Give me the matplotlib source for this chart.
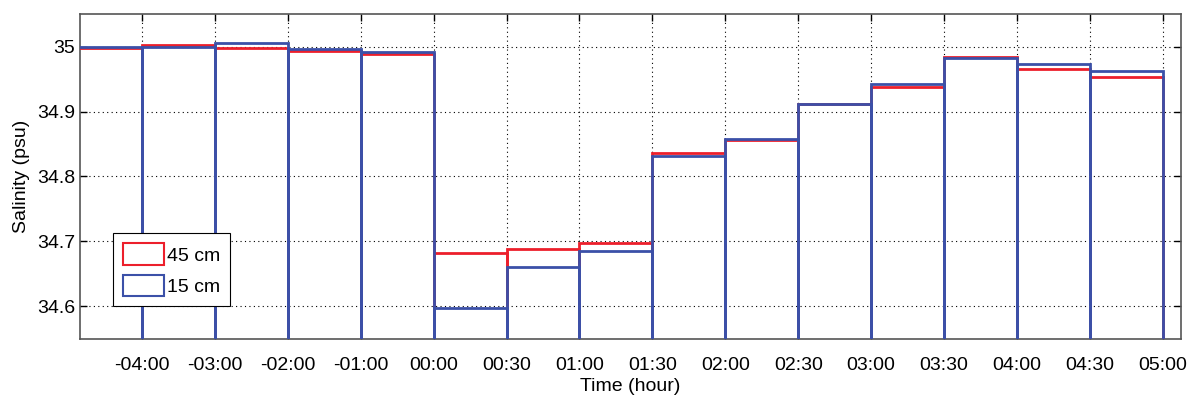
import matplotlib
matplotlib.use("Agg")
import matplotlib.pyplot as plt
from matplotlib.patches import Patch

# time steps (categorical axis) and mean salinity for each sensor depth
time_labels = ['-04:00', '-03:00', '-02:00', '-01:00', '00:00', '00:30', '01:00',
               '01:30', '02:00', '02:30', '03:00', '03:30', '04:00', '04:30', '05:00']
salinity_45 = [34.998, 35.003, 34.998, 34.993, 34.988, 34.683, 34.689, 34.698,
               34.836, 34.856, 34.911, 34.937, 34.984, 34.966, 34.953]
salinity_15 = [35.000, 35.000, 35.006, 34.996, 34.992, 34.598, 34.660, 34.686,
               34.831, 34.858, 34.912, 34.942, 34.982, 34.973, 34.963]

red = '#ec1f2b'
blue = '#3b50a8'
base = 34.4

plt.rcParams['font.family'] = ['Liberation Sans', 'DejaVu Sans']

fig = plt.figure(figsize=(11.95, 3.99), dpi=100)
ax = fig.add_axes([0.0669, 0.1504, 0.9214, 0.8145])

pos = list(range(1, len(time_labels) + 1))
# each bar spans from the previous tick to its own tick
left = [p - 1 for p in pos]
ax.bar(left, [v - base for v in salinity_45], width=1, bottom=base, align='edge',
       fill=False, edgecolor=red, linewidth=2, zorder=3)
ax.bar(left, [v - base for v in salinity_15], width=1, bottom=base, align='edge',
       fill=False, edgecolor=blue, linewidth=2, zorder=4)

ax.set_xlim(0.15, 15.25)
ax.set_ylim(34.55, 35.05)
ax.set_xticks(pos)
ax.set_xticklabels(time_labels)
ax.set_yticks([34.6, 34.7, 34.8, 34.9, 35.0])
ax.set_yticklabels(['34.6', '34.7', '34.8', '34.9', '35'])
ax.tick_params(direction='in', top=True, right=True, length=5, width=1,
               labelsize=14)
ax.tick_params(axis='x', pad=13)
ax.tick_params(axis='y', pad=3.5)
ax.grid(True, color='black', linestyle=(0, (1, 3)), linewidth=0.8, zorder=1)
ax.set_axisbelow(True)
for s in ax.spines.values():
    s.set_color('#555555')
    s.set_linewidth(1.2)

ax.set_xlabel('Time (hour)', fontsize=14, labelpad=3)
ax.set_ylabel('Salinity (psu)', fontsize=14, labelpad=5)

handles = [Patch(facecolor='none', edgecolor=red, linewidth=1.5, label='45 cm'),
           Patch(facecolor='none', edgecolor=blue, linewidth=1.5, label='15 cm')]
leg = ax.legend(handles=handles, loc='lower left', bbox_to_anchor=(0.030, 0.1015),
                fontsize=14, handlelength=2.1, handleheight=1.34, handletextpad=0.2,
                labelspacing=0.5, borderpad=0.5, borderaxespad=0,
                fancybox=False, framealpha=1, edgecolor='black')
leg.get_frame().set_linewidth(0.8)
leg.set_zorder(10)

fig.savefig('out.png', dpi=100)
